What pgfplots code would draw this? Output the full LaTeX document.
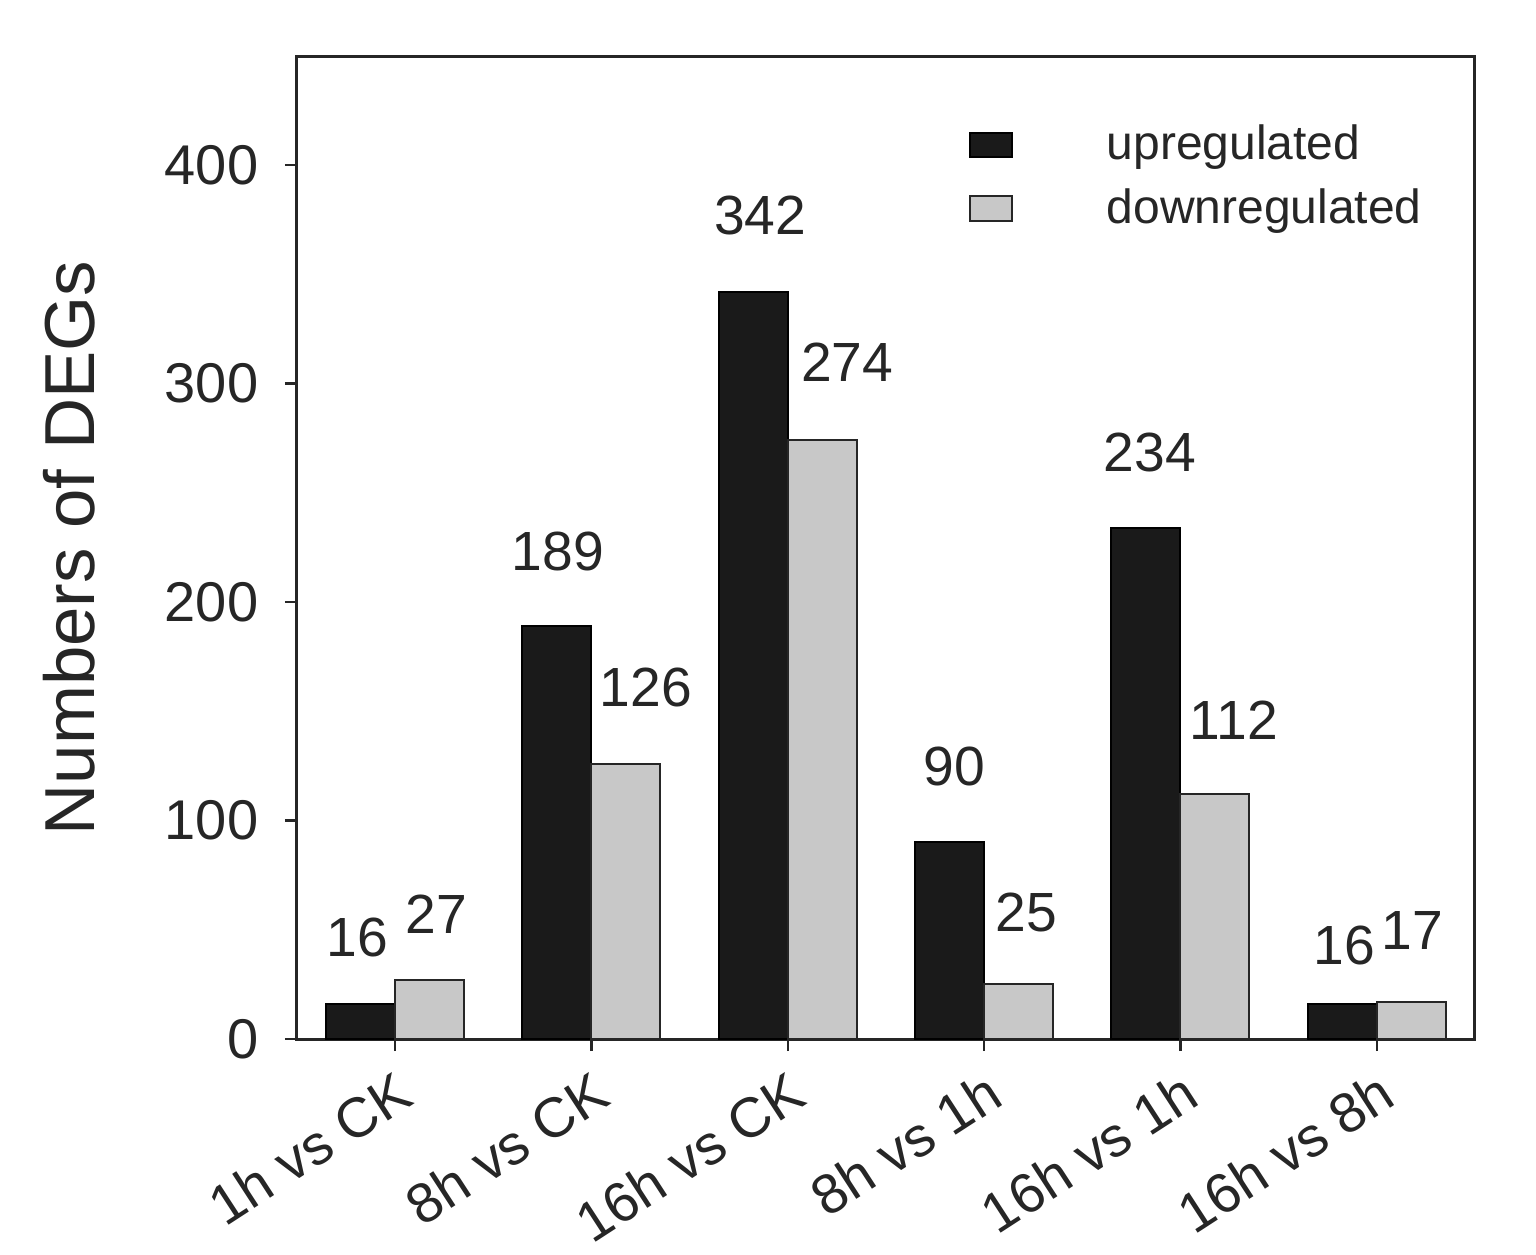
\documentclass[border=0pt]{standalone}
\usepackage{pgfplots}
\usepackage{pgfplotstable}
\pgfplotsset{compat=1.18}
\usepackage{fontspec}
\setmainfont{Liberation Sans}
\definecolor{upc}{HTML}{1A1A1A}
\definecolor{downc}{HTML}{C8C8C8}
% x, value, label dx (bp), label dy (bp, centre above bar top)
\pgfplotstableread{
x y dx dy
0 16  -0.75 16.75
1 189  0.25 18.75
2 342  1.75 19
3 90   1.25 19
4 234  1    18.75
5 16   0.5  14.75
}\uptable
\pgfplotstableread{
x y dx dy
0 27   1.75 16.5
1 126  5    19
2 274  6.25 19.5
3 25   2    18
4 112  4.75 18.5
5 17   0.25 17.75
}\downtable
\begin{document}
\begin{tikzpicture}
\useasboundingbox (-74.25bp,-54bp) rectangle (309.75bp,259.75bp);
\begin{axis}[
  at={(0,0)}, anchor=south west,
  scale only axis,
  width=294.5bp, height=245.5bp,
  xmin=-0.5, xmax=5.5, ymin=0, ymax=449.5,
  axis line style={line width=0.75bp, black!85},
  xtick={0,1,2,3,4,5},
  xticklabels={1h vs CK,8h vs CK,16h vs CK,8h vs 1h,16h vs 1h,16h vs 8h},
  ytick={0,100,200,300,400},
  tick align=outside,
  tick pos=left,
  major tick length=3bp,
  tick style={line width=0.6bp, black!85},
  /pgf/number format/assume math mode=true,
  ticklabel style={font=\fontsize{14bp}{16bp}\selectfont, text=black!85},
  xticklabel style={rotate=33, anchor=north east, inner sep=1bp, xshift=-1.5bp, yshift=-2.5bp},
  yticklabel style={anchor=east, inner sep=0pt, xshift=-6.5bp},
  ylabel={Numbers of DEGs},
  ylabel style={at={(axis description cs:-0.1935,0.5)}, anchor=center, font=\fontsize{17.7bp}{20bp}\selectfont, text=black!85},
  ybar, bar width=17.25bp,
  nodes near coords,
  visualization depends on={\thisrow{dx} \as \ldx},
  visualization depends on={\thisrow{dy} \as \ldy},
  every node near coord/.append style={font=\fontsize{13.8bp}{15bp}\selectfont, text=black!85, anchor=center, xshift=\ldx bp, yshift=\ldy bp},
  legend style={at={(rel axis cs:0.5696,0.932)}, anchor=north west, draw=none, fill=none, inner sep=0pt,
    font=\fontsize{12bp}{14bp}\selectfont, text=black!85, row sep=5.75bp,
    nodes={inner sep=0pt, anchor=west}},
  legend cell align=left,
  legend image code/.code={\draw[#1, line width=0.5bp] (0bp,-3.1bp) rectangle (10.5bp,3.1bp); \path[draw=none, fill=none] (0bp,0bp) -- (34.25bp,0bp);},
]
\addplot[fill=upc, draw=black, line width=0.5bp, bar shift=-8.625bp] table[x=x, y=y] {\uptable};
\addlegendentry{upregulated}
\addplot[fill=downc, draw=black!85, line width=0.5bp, bar shift=8.625bp] table[x=x, y=y] {\downtable};
\addlegendentry{downregulated}
\end{axis}
\end{tikzpicture}
\end{document}
